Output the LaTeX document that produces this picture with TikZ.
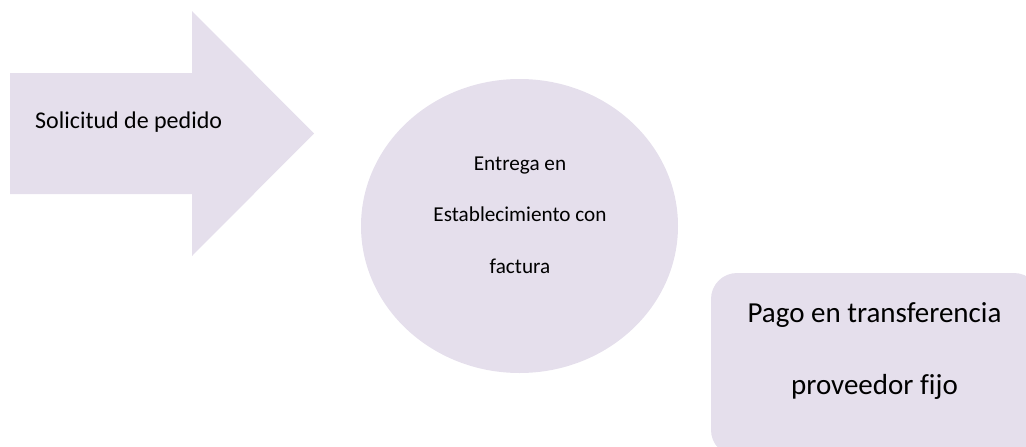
\documentclass[tikz,border=0pt]{standalone}
\usepackage{fontspec}
\setmainfont{Carlito}[Ligatures=CommonOff]
\definecolor{lav}{HTML}{E5DFEC}
\begin{document}
\begin{tikzpicture}[x=1pt,y=-1pt,
  shapefill/.style={fill=lav,draw=none},
  lbl/.style={inner sep=0pt,text=black}]
\useasboundingbox (0,0) rectangle (1026,447);
\clip (0,0) rectangle (1026,447);
% arrow
\path[shapefill] (10,73) -- (192,73) -- (192,11) -- (314,133.5) -- (192,256) -- (192,194) -- (10,194) -- cycle;
\node[lbl,anchor=base west,font=\fontsize{24}{28}\selectfont] (sol) at (35,128) {Solicitud de pedido};
% ellipse
\path[shapefill] (519.5,226) ellipse [x radius=158.5, y radius=147];
\node[lbl,anchor=base,font=\fontsize{21.2}{25}\selectfont] (e1) at (520,170) {Entrega en};
\node[lbl,anchor=base,font=\fontsize{21.2}{25}\selectfont] (e2) at (520,221) {Establecimiento con};
\node[lbl,anchor=base,font=\fontsize{21.2}{25}\selectfont] (e3) at (520,273) {factura};
% rounded box
\path[shapefill,rounded corners=26pt] (711,273) rectangle (1040,456);
\node[lbl,anchor=base,font=\fontsize{29}{34}\selectfont] (p1) at (874.5,322) {Pago en transferencia};
\node[lbl,anchor=base,font=\fontsize{29}{34}\selectfont] (p2) at (874.5,394) {proveedor fijo};
\end{tikzpicture}
\end{document}
